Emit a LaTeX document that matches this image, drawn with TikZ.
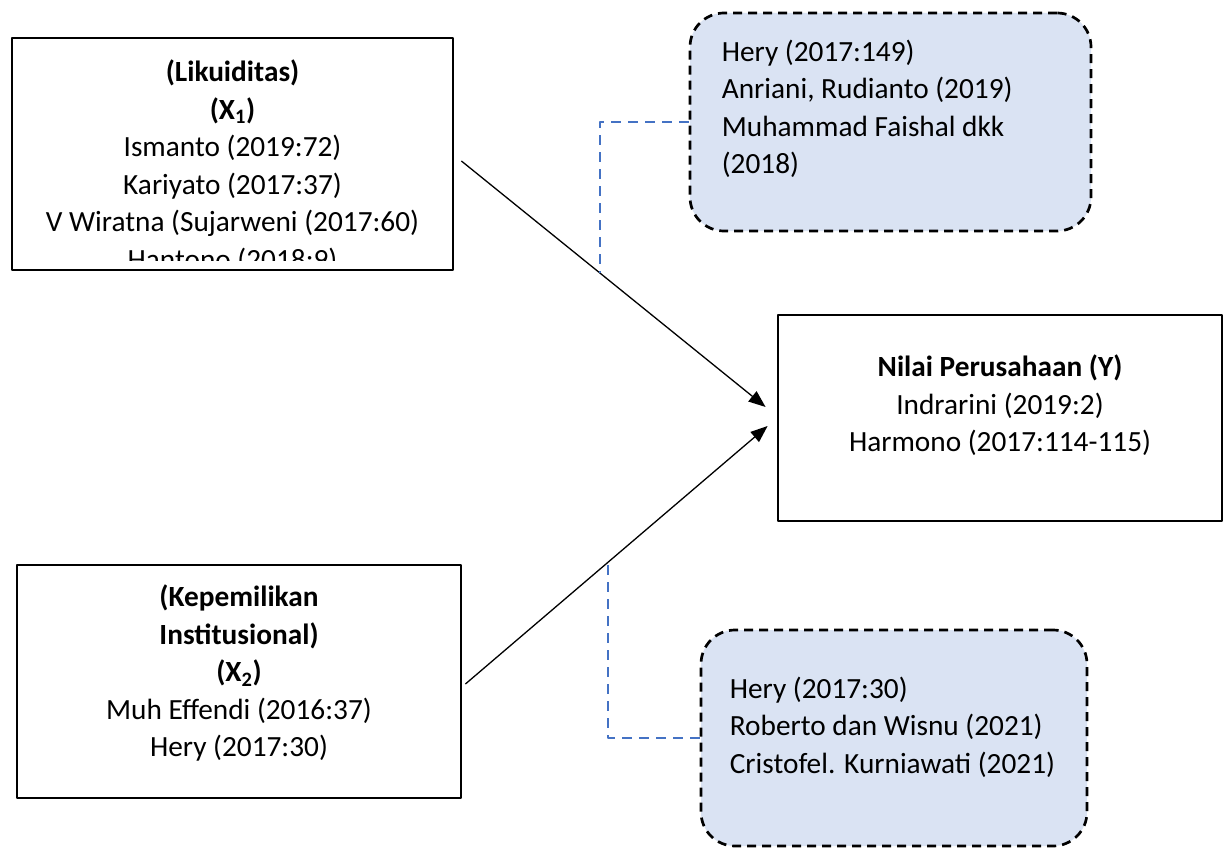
\documentclass[tikz,border=0pt]{standalone}
\usepackage{fontspec}
\setmainfont{Carlito}
\usetikzlibrary{arrows.meta}
\definecolor{refblue}{HTML}{DAE3F3}
\definecolor{linkblue}{HTML}{4472C4}
\begin{document}
\begin{tikzpicture}[x=1pt,y=-1pt,>={Triangle[length=17pt,width=13pt]},line join=round,
    box/.style={draw,line width=2.8pt,inner sep=0pt},
    refbox/.style={draw,fill=refblue,line width=2.7pt,dash pattern=on 9pt off 6pt,rounded corners=34pt,inner sep=0pt},
    txt/.style={inner sep=0pt,font=\fontsize{29.3}{37.5}\selectfont},
    link/.style={draw=linkblue,line width=2.9pt,dash pattern=on 10pt off 7pt},
    arr/.style={->,line width=1.3pt}]
    \useasboundingbox (0,0) rectangle (1225,848);
    % kotak variabel
    \node[box,minimum width=441pt,minimum height=232pt] (x1) at (232.5,154) {};
    \node[box,minimum width=444pt,minimum height=206pt] (y) at (1000,418) {};
    \node[box,minimum width=444pt,minimum height=233pt] (x2) at (239,681.5) {};
    \begin{scope}
        \clip ([yshift=11pt]x1.south west) rectangle (x1.north east);
        \node[txt,align=center,anchor=north] (x1t) at ([yshift=-23pt]x1.north)
            {\textbf{(Likuiditas)}\\\textbf{(X\textsubscript{1})}\\Ismanto (2019:72)\\Kariyato (2017:37)\\V Wiratna (Sujarweni (2017:60)\\Hantono (2018:9)};
    \end{scope}
    \node[txt,align=center,anchor=north] (yt) at ([yshift=-41pt]y.north)
        {\textbf{Nilai Perusahaan (Y)}\\Indrarini (2019:2)\\Harmono (2017:114-115)};
    \node[txt,align=center,anchor=north] (x2t) at ([yshift=-21pt]x2.north)
        {\textbf{(Kepemilikan}\\\textbf{Institusional)}\\\textbf{(X\textsubscript{2})}\\Muh Effendi (2016:37)\\Hery (2017:30)};
    % kotak referensi
    \node[refbox,minimum width=401pt,minimum height=218pt] (refa) at (890.5,122) {};
    \node[refbox,minimum width=386pt,minimum height=216pt] (refb) at (894,738) {};
    \node[txt,align=left,anchor=north west] (refat) at ([shift={(33,28)}]refa.north west)
        {Hery (2017:149)\\Anriani, Rudianto (2019)\\Muhammad Faishal dkk\\(2018)};
    \node[txt,align=left,anchor=north west] (refbt) at ([shift={(30,48)}]refb.north west)
        {Hery (2017:30)\\Roberto dan Wisnu (2021)\\Cristofel. Kurniawati (2021)};
    % panah
    \draw[arr] ([shift={(7,7)}]x1.east) -- ([shift={(-11,-11)}]y.west);
    \draw[arr] ([shift={(3,2.5)}]x2.east) -- ([shift={(-9,8)}]y.west);
    % garis putus-putus
    \coordinate (ka) at (600,273);
    \coordinate (kb) at (608,562);
    \draw[link] (refa.west) -| (ka);
    \draw[link] (refb.west) -| (kb);
\end{tikzpicture}
\end{document}
